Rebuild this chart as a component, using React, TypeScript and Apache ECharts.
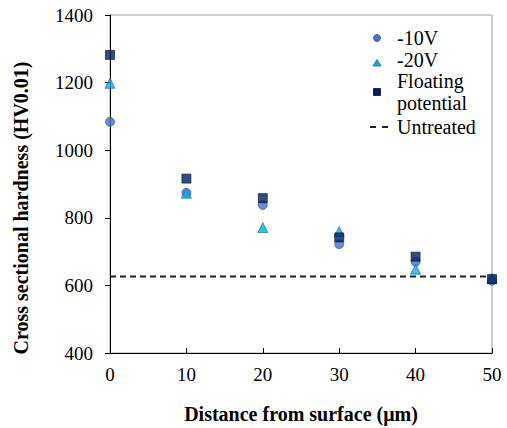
import React, { useEffect, useRef } from "react";
import * as echarts from "echarts";

const distances = [0, 10, 20, 30, 40, 50];
const minus10V = [1084, 874, 838, 722, 670, 614];
const minus20V = [1198, 873, 771, 759, 648, 620];
const floating = [1282, 916, 858, 742, 685, 619];
const untreated = 626;
const yTicks = [400, 600, 800, 1000, 1200, 1400];

const FONT = "Liberation Serif";

export default function App() {
  const ref = useRef<HTMLDivElement>(null);
  useEffect(() => {
    document.body.style.margin = "0";
    const chart = echarts.init(ref.current!, null, { renderer: "svg" });
    const pair = (vals: number[]) => distances.map((d, i) => [d, vals[i]]);
    const legendText = (text: string, y: number) => ({
      type: "text",
      x: 397,
      y,
      style: { text, fontFamily: FONT, fontSize: 20, fill: "#000", verticalAlign: "middle" },
    });
    chart.setOption({
      animation: false,
      backgroundColor: "#fff",
      textStyle: { fontFamily: FONT },
      grid: {
        left: 110,
        right: 15,
        top: 15,
        bottom: 75,
        show: true,
        borderColor: "#a0a0a0",
        borderWidth: 1,
        containLabel: false,
        outerBoundsMode: "none",
      },
      xAxis: {
        type: "value",
        min: 0,
        max: 50,
        interval: 10,
        name: "Distance from surface (μm)",
        nameLocation: "middle",
        nameGap: 51,
        nameTextStyle: { fontFamily: FONT, fontSize: 20, fontWeight: "bold", color: "#000" },
        axisLine: { onZero: false, lineStyle: { color: "#000", width: 1 } },
        axisTick: { inside: true, length: 5, lineStyle: { color: "#000" } },
        axisLabel: { fontFamily: FONT, fontSize: 19, color: "#000", margin: 12 },
        splitLine: { show: false },
      },
      yAxis: {
        type: "value",
        min: 400,
        max: 1400,
        interval: 200,
        axisLine: { onZero: false, lineStyle: { color: "#000", width: 1 } },
        axisTick: { inside: false, length: 5, lineStyle: { color: "#000" } },
        axisLabel: {
          fontFamily: FONT,
          fontSize: 19,
          color: "#000",
          margin: 17,
          formatter: (v: number) => (yTicks.includes(v) ? String(v) : ""),
        },
        splitLine: { show: false },
      },
      series: [
        {
          name: "Untreated",
          type: "line",
          data: [
            [distances[0], untreated],
            [distances[distances.length - 1], untreated],
          ],
          symbol: "none",
          lineStyle: { color: "#222", width: 2, type: [6, 4] },
          z: 1,
        },
        {
          name: "-10V",
          type: "scatter",
          data: pair(minus10V),
          symbol: "circle",
          symbolSize: 9,
          itemStyle: { color: "#4472C4", borderColor: "#2F4F8F", borderWidth: 0.8 },
          z: 2,
        },
        {
          name: "-20V",
          type: "scatter",
          data: pair(minus20V),
          symbol: "triangle",
          symbolSize: 10,
          itemStyle: { color: "#00B0F0", borderColor: "#1F5F8F", borderWidth: 0.8 },
          z: 3,
        },
        {
          name: "Floating potential",
          type: "scatter",
          data: pair(floating),
          symbol: "rect",
          symbolSize: 9,
          itemStyle: { color: "#002060", borderColor: "#001030", borderWidth: 0.8 },
          z: 4,
        },
      ],
      graphic: [
        {
          type: "text",
          x: 21,
          y: 208,
          rotation: Math.PI / 2,
          style: {
            text: "Cross sectional hardness (HV0.01)",
            fontFamily: FONT,
            fontSize: 20,
            fontWeight: "bold",
            fill: "#000",
            align: "center",
            verticalAlign: "middle",
          },
        },
        { type: "circle", shape: { cx: 377, cy: 38, r: 3.5 }, style: { fill: "#4472C4", stroke: "#2F4F8F", lineWidth: 0.8 } },
        legendText("-10V", 38),
        { type: "polygon", shape: { points: [[377, 59.5], [381, 66], [373, 66]] }, style: { fill: "#00B0F0", stroke: "#1F5F8F", lineWidth: 0.8 } },
        legendText("-20V", 60),
        { type: "rect", shape: { x: 373.5, y: 88.5, width: 7, height: 7 }, style: { fill: "#002060", stroke: "#001030", lineWidth: 0.8 } },
        legendText("Floating", 81),
        legendText("potential", 103),
        { type: "line", shape: { x1: 370, y1: 127, x2: 388, y2: 127 }, style: { stroke: "#222", lineWidth: 2, lineDash: [6, 6] } },
        legendText("Untreated", 127),
      ],
    });
    return () => chart.dispose();
  }, []);
  return <div ref={ref} style={{ width: 507, height: 428 }} />;
}
